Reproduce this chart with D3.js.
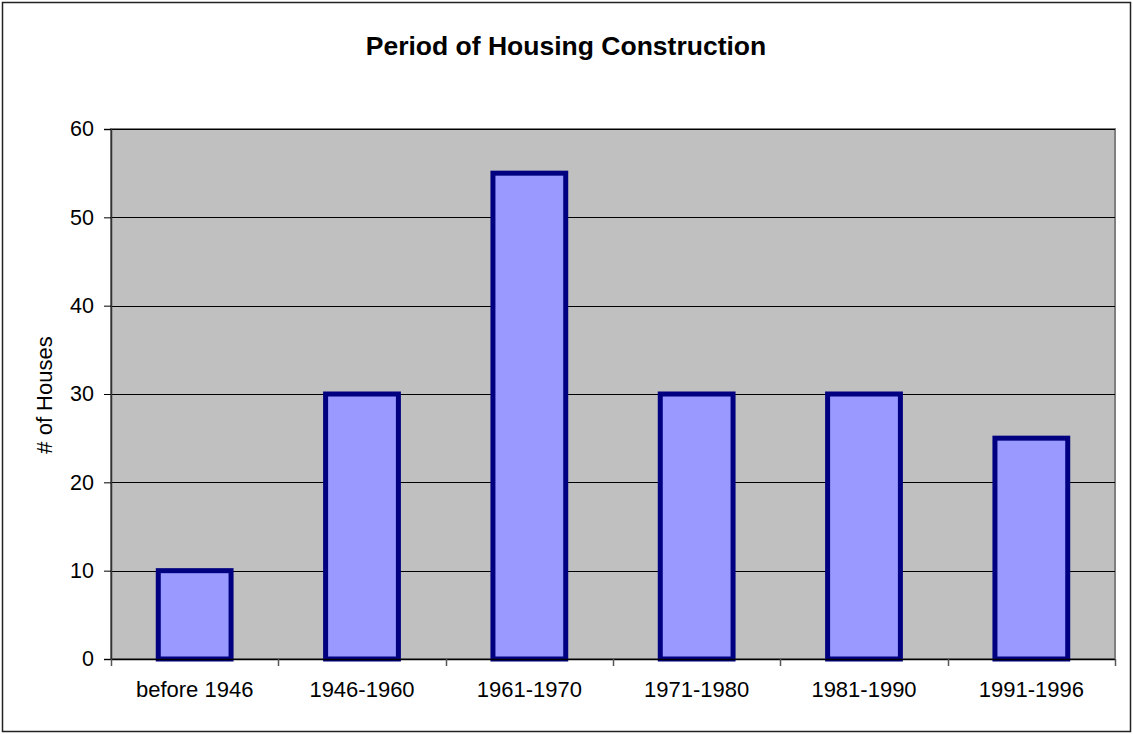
<!DOCTYPE html>
<meta charset="utf-8">
<title>Period of Housing Construction</title>
<script src="https://d3js.org/d3.v7.min.js"></script>
<style>
body {margin: 0; background: white;}
text {font-family: Arial, "Liberation Sans", sans-serif;}
</style>
<body>
<div id="chart"></div>
<script>
// data
var periods = ["before 1946", "1946-1960", "1961-1970", "1971-1980", "1981-1990", "1991-1996"];
var houses = [10, 30, 55, 30, 30, 25];
var yTicks = [0, 10, 20, 30, 40, 50, 60];

var W = 1133, H = 734;
var plot = {left: 111, top: 129, right: 1115, bottom: 659};

var svg = d3.select("#chart").append("svg")
  .attr("width", W)
  .attr("height", H);

// outer frame
svg.append("rect")
  .attr("x", 2.5).attr("y", 2.5)
  .attr("width", W - 5).attr("height", H - 5)
  .attr("fill", "white")
  .attr("stroke", "#222")
  .attr("stroke-width", 1.5);

var x = d3.scaleBand()
  .domain(periods)
  .range([plot.left, plot.right])
  .paddingInner(0.565)
  .paddingOuter(0.2825);

var y = d3.scaleLinear()
  .domain([0, 60])
  .range([plot.bottom, plot.top]);

// plot area
svg.append("rect")
  .attr("x", plot.left).attr("y", plot.top)
  .attr("width", plot.right - plot.left)
  .attr("height", plot.bottom - plot.top)
  .attr("fill", "#c0c0c0")
  .attr("stroke", "#808080")
  .attr("stroke-width", 2);

// gridlines
svg.append("g")
  .selectAll("line")
  .data(yTicks.filter(function(d) { return d > 0; }))
  .enter().append("line")
    .attr("x1", plot.left).attr("x2", plot.right)
    .attr("y1", function(d) { return Math.round(y(d)) + 0.5; })
    .attr("y2", function(d) { return Math.round(y(d)) + 0.5; })
    .attr("stroke", "#000")
    .attr("stroke-width", 1);

// bars
svg.append("g")
  .selectAll("rect")
  .data(houses)
  .enter().append("rect")
    .attr("x", function(d, i) { return x(periods[i]); })
    .attr("y", function(d) { return y(d); })
    .attr("width", x.bandwidth())
    .attr("height", function(d) { return y(0) - y(d); })
    .attr("fill", "#9999ff")
    .attr("stroke", "#000080")
    .attr("stroke-width", 5);

// y axis
var yAxis = svg.append("g")
  .attr("transform", "translate(" + plot.left + ",0)")
  .call(d3.axisLeft(y).tickValues(yTicks).tickSize(7).tickPadding(10));
yAxis.select(".domain").attr("stroke", "#333").attr("stroke-width", 1.5);
yAxis.selectAll(".tick line").attr("stroke", "#000");
yAxis.selectAll("text")
  .attr("fill", "#000")
  .style("font-size", "21.5px")
  .style("font-family", "Arial, 'Liberation Sans', sans-serif");

// x axis with ticks at category boundaries
var xb = d3.scaleLinear().domain([0, periods.length]).range([plot.left, plot.right]);
var xAxis = svg.append("g")
  .attr("transform", "translate(0," + plot.bottom + ")");
xAxis.append("line")
  .attr("x1", plot.left).attr("x2", plot.right)
  .attr("y1", 0.5).attr("y2", 0.5)
  .attr("stroke", "#000").attr("stroke-width", 1.5);
xAxis.selectAll(".tk")
  .data(d3.range(periods.length + 1))
  .enter().append("line")
    .attr("class", "tk")
    .attr("x1", function(d) { return Math.round(xb(d)) + 0.5; })
    .attr("x2", function(d) { return Math.round(xb(d)) + 0.5; })
    .attr("y1", 0).attr("y2", 7)
    .attr("stroke", "#555").attr("stroke-width", 1.5);
xAxis.selectAll(".lbl")
  .data(periods)
  .enter().append("text")
    .attr("class", "lbl")
    .attr("x", function(d) { return x(d) + x.bandwidth() / 2; })
    .attr("y", 38)
    .attr("text-anchor", "middle")
    .style("font-size", "22px")
    .text(function(d) { return d; });

// title
svg.append("text")
  .attr("x", 566)
  .attr("y", 55)
  .attr("text-anchor", "middle")
  .style("font-size", "26.5px")
  .attr("font-weight", "bold")
  .text("Period of Housing Construction");

// y label
svg.append("text")
  .attr("transform", "translate(52," + 395 + ") rotate(-90)")
  .attr("text-anchor", "middle")
  .style("font-size", "22px")
  .text("# of Houses");
</script>
</body>
